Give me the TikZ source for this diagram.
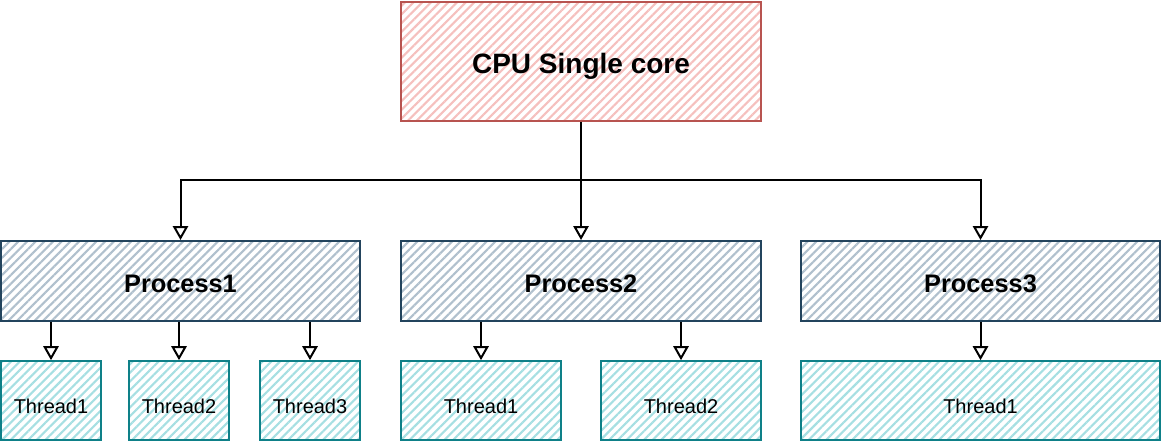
\documentclass[tikz,border=0pt]{standalone}
\usepackage{fontspec}
\setmainfont{Liberation Sans}
\usetikzlibrary{arrows.meta,patterns.meta}

\definecolor{cpuline}{HTML}{B85450}
\definecolor{cpufill}{HTML}{F5C0BE}
\definecolor{procline}{HTML}{23445D}
\definecolor{procfill}{HTML}{B0C0CD}
\definecolor{thrline}{HTML}{0E8088}
\definecolor{thrfill}{HTML}{A6DFE2}

\tikzset{
  hatch/.style={pattern={Lines[angle=45,distance=4.6pt,line width=1.6pt]},pattern color=#1},
  cpubox/.style={draw=cpuline,line width=1.5pt,hatch=cpufill,minimum width=270pt,minimum height=89pt},
  procbox/.style={draw=procline,line width=1.5pt,hatch=procfill,minimum width=#1,minimum height=60pt},
  thrbox/.style={draw=thrline,line width=1.5pt,hatch=thrfill,minimum width=#1,minimum height=59pt},
  cputext/.style={font=\fontsize{21}{24}\selectfont\bfseries},
  proctext/.style={font=\fontsize{19}{22}\selectfont\bfseries},
  thrtext/.style={font=\fontsize{15}{18}\selectfont},
  arr/.style={-{Triangle[open,length=10.5pt,width=11.5pt]},line width=1.5pt,black},
  wire/.style={line width=1.5pt,black}
}

\begin{document}
\begin{tikzpicture}[x=0.75pt,y=-0.75pt]
  \useasboundingbox (0,0) rectangle (1162,442);

  % cpu
  \node[cpubox] (cpu) at (581,61.5) {};
  \node[cputext] (cpu-l) at (581,66) {CPU Single core};

  % processes
  \node[procbox=269pt] (proc1) at (180.5,281) {};
  \node[procbox=270pt] (proc2) at (581,281) {};
  \node[procbox=269pt] (proc3) at (980.5,281) {};
  \foreach \n in {1,2,3}
    \node[proctext] (proc\n-l) at ([yshift=-2.25pt]proc\n.center) {Process\n};

  % threads
  \node[thrbox=75pt] (t11) at (51,400.5) {};
  \node[thrbox=75pt] (t12) at (179,400.5) {};
  \node[thrbox=75pt] (t13) at (310,400.5) {};
  \node[thrbox=120pt] (t21) at (481,400.5) {};
  \node[thrbox=120pt] (t22) at (681,400.5) {};
  \node[thrbox=269pt] (t31) at (980.5,400.5) {};
  \foreach \n/\txt in {t11/Thread1,t12/Thread2,t13/Thread3,t21/Thread1,t22/Thread2,t31/Thread1}
    \node[thrtext] (\n-l) at ([yshift=-4.5pt]\n.center) {\txt};

  % cpu to processes
  \coordinate (bus) at (581,180);
  \draw[wire] (cpu.south) -- (bus);
  \draw[arr] (bus) -| (proc1.north);
  \draw[arr] (bus) -- (proc2.north);
  \draw[arr] (bus) -| (proc3.north);

  % processes to threads
  \draw[arr] (proc1.south -| t11.north) -- (t11.north);
  \draw[arr] (proc1.south -| t12.north) -- (t12.north);
  \draw[arr] (proc1.south -| t13.north) -- (t13.north);
  \draw[arr] (proc2.south -| t21.north) -- (t21.north);
  \draw[arr] (proc2.south -| t22.north) -- (t22.north);
  \draw[arr] (proc3.south) -- (t31.north);
\end{tikzpicture}
\end{document}
